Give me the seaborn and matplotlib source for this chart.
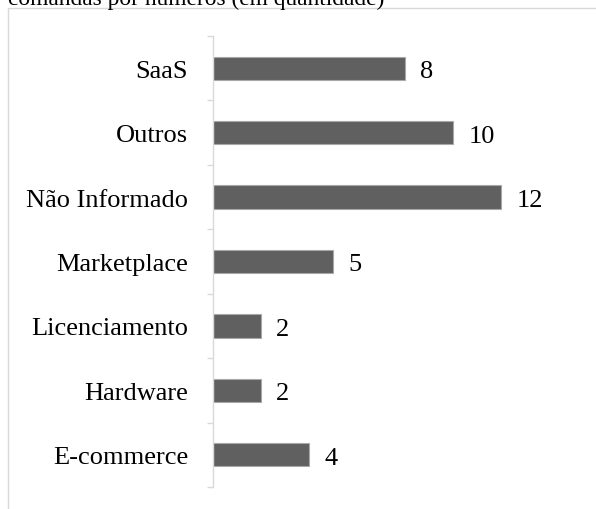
import matplotlib
matplotlib.use("Agg")
import matplotlib.pyplot as plt
import matplotlib.patches as mpatches
import seaborn as sns
import pandas as pd
import numpy as np

categories = ["SaaS", "Outros", "Não Informado", "Marketplace", "Licenciamento", "Hardware", "E-commerce"]
values = [8, 10, 12, 5, 2, 2, 4]
title = "comandas por números (em quantidade)"

sns.set_theme(style="white")
plt.rcParams['font.family'] = ['Liberation Serif', 'DejaVu Serif']

W, H = 596, 510
fig = plt.figure(figsize=(W / 100, H / 100), dpi=100)

# outer frame
frame = mpatches.Rectangle((8 / W, -0.2), 1.5, 1.2 - 9 / H, transform=fig.transFigure,
                           fill=False, edgecolor="#d9d9d9", linewidth=1.0, zorder=0)
fig.patches.append(frame)

fig.text(8 / W, 1 - 4.5 / H, title, fontsize=16.8, va="baseline", ha="left", color="black")

ax_left, ax_top, ax_bottom, ax_width = 213, 37, 488, 360
ax = fig.add_axes([ax_left / W, 1 - ax_bottom / H, ax_width / W, (ax_bottom - ax_top) / H])

df = pd.DataFrame({"cat": categories, "val": values})
sns.barplot(data=df, y="cat", x="val", orient="h", order=categories, color="#606060",
            saturation=1, width=0.36, edgecolor="#a8a8a8", linewidth=0.8, ax=ax)

ax.set_xlim(0, ax_width / 24)
ax.set_ylim(len(categories) - 0.5, -0.5)
ax.set_xlabel("")
ax.set_ylabel("")
ax.set_xticks([])

for i, v in enumerate(values):
    ax.annotate(str(v), xy=(v, i), xytext=(11, -6.4), textcoords="offset points",
                va="baseline", ha="left", fontsize=19, color="black")

ax.set_yticks(np.arange(-0.5, len(categories), 1.0))
ax.set_yticklabels([])
ax.set_yticks(np.arange(len(categories)), minor=True)
ax.set_yticklabels(categories, minor=True, fontsize=19, color="black")
ax.tick_params(axis="y", which="major", length=4.3, width=1.0, color="#d9d9d9", left=True)
ax.tick_params(axis="y", which="minor", length=0, pad=18)

for s in ["top", "right", "bottom"]:
    ax.spines[s].set_visible(False)
ax.spines["left"].set_color("#d9d9d9")
ax.spines["left"].set_linewidth(1.0)
ax.patch.set_alpha(0)

fig.savefig("out.png", dpi=100)
